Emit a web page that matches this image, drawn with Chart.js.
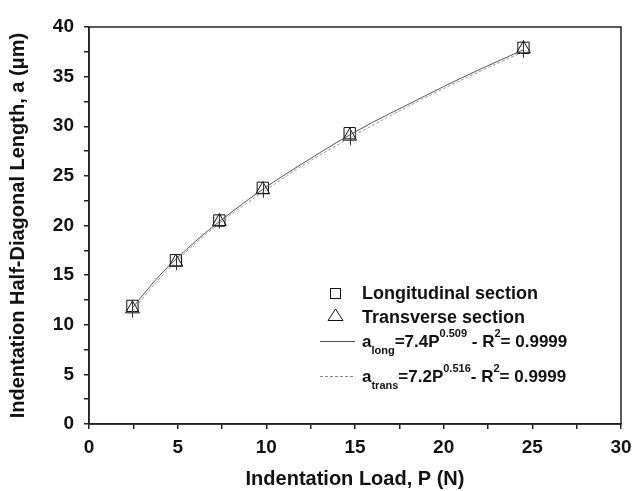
<!DOCTYPE html>
<html>
<head>
<meta charset="utf-8">
<script src="https://cdn.jsdelivr.net/npm/chart.js@4.4.1/dist/chart.umd.min.js"></script>
<style>
  html, body { margin: 0; padding: 0; background: #fff; }
  #wrap { width: 632px; height: 491px; }
</style>
</head>
<body>
<div id="wrap"><canvas id="indent-chart"></canvas></div>
<script>
// Indentation loads, P (N)
const loads = [2.45, 4.9, 7.35, 9.8, 14.7, 24.5];

// Measured half-diagonal length, a (um), with error bars
const longSection = [11.9, 16.5, 20.5, 23.8, 29.3, 37.9];
const transSection = [11.6, 16.3, 20.4, 23.6, 29.0, 37.8];
const longErr = [0.6, 0.5, 0.5, 0.6, 0.6, 0.6];
const transErr = [0.9, 0.8, 0.7, 0.8, 0.9, 0.9];

// Fitted power-law curves
const fitLoads = [2.45, 4, 6, 8, 10, 12, 14, 16, 18, 20, 22, 24.5];
const fitLong = [11.7, 15.0, 18.4, 21.3, 23.9, 26.2, 28.4, 30.4, 32.2, 34.0, 35.7, 37.7];
const fitTrans = [11.4, 14.7, 18.2, 21.1, 23.6, 26.0, 28.1, 30.1, 32.0, 33.8, 35.5, 37.5];

// Legend texts
const legendLabels = ["Longitudinal section", "Transverse section"];
const fitLongLabel = [["a", ""], ["long", "sub"], ["=7.4P", ""], ["0.509", "sup"], [" - R", ""], ["2", "sup"], ["= 0.9999", ""]];
const fitTransLabel = [["a", ""], ["trans", "sub"], ["=7.2P", ""], ["0.516", "sup"], ["- R", ""], ["2", "sup"], ["= 0.9999", ""]];

const FONT = "'Liberation Sans', Arial, sans-serif";

function toPoints(xs, ys) {
  return xs.map((x, i) => ({ x: x, y: ys[i] }));
}

// draws text with sub/superscripts
function drawRich(ctx, parts, x, y) {
  parts.forEach(([t, kind]) => {
    const size = kind ? 11 : 17;
    const dy = kind === "sub" ? 7 : kind === "sup" ? -10 : 0;
    ctx.font = "bold " + size + "px " + FONT;
    ctx.fillText(t, x, y + dy);
    x += ctx.measureText(t).width;
  });
  return x;
}

// thin vertical error bars through the markers
const errorBars = {
  id: "errorBars",
  afterDatasetsDraw(chart) {
    const { ctx, scales: { x, y } } = chart;
    ctx.save();
    ctx.strokeStyle = "#333";
    ctx.lineWidth = 1;
    [[longSection, longErr], [transSection, transErr]].forEach(([vals, errs]) => {
      vals.forEach((v, i) => {
        const px = Math.round(x.getPixelForValue(loads[i])) + 0.5;
        ctx.beginPath();
        ctx.moveTo(px, y.getPixelForValue(v - errs[i]));
        ctx.lineTo(px, y.getPixelForValue(v + errs[i]));
        ctx.stroke();
      });
    });
    ctx.restore();
  }
};

// box around the plot + the hand-made legend
const frameAndLegend = {
  id: "frameAndLegend",
  afterDraw(chart) {
    const { ctx, chartArea: a } = chart;
    ctx.save();
    ctx.strokeStyle = "#222";
    ctx.lineWidth = 1.5;
    ctx.strokeRect(a.left, a.top, a.right - a.left, a.bottom - a.top);

    // legend
    ctx.fillStyle = "#111";
    ctx.strokeStyle = "#111";
    ctx.lineWidth = 1;
    ctx.textBaseline = "alphabetic";
    ctx.strokeRect(330.5, 288.5, 10, 10);
    ctx.beginPath();
    ctx.moveTo(335.5, 309);
    ctx.lineTo(343, 320.5);
    ctx.lineTo(328, 320.5);
    ctx.closePath();
    ctx.stroke();
    ctx.font = "bold 18px " + FONT;
    ctx.fillText(legendLabels[0], 362, 299);
    ctx.fillText(legendLabels[1], 362, 323);

    ctx.strokeStyle = "#555";
    ctx.beginPath();
    ctx.moveTo(320, 341.5);
    ctx.lineTo(355, 341.5);
    ctx.stroke();
    drawRich(ctx, fitLongLabel, 362, 347);

    ctx.strokeStyle = "#888";
    ctx.setLineDash([3, 2]);
    ctx.beginPath();
    ctx.moveTo(320, 376.5);
    ctx.lineTo(355, 376.5);
    ctx.stroke();
    ctx.setLineDash([]);
    drawRich(ctx, fitTransLabel, 362, 382);
    ctx.restore();
  }
};

const tickFont = { family: FONT, size: 19, weight: "bold" };
const titleFont = { family: FONT, size: 20, weight: "bold" };

new Chart("indent-chart", {
  type: "scatter",
  data: {
    datasets: [
      {
        label: "fit long",
        data: toPoints(fitLoads, fitLong),
        showLine: true,
        pointRadius: 0,
        borderColor: "#555",
        borderWidth: 1,
        cubicInterpolationMode: "monotone"
      },
      {
        label: "fit trans",
        data: toPoints(fitLoads, fitTrans),
        showLine: true,
        pointRadius: 0,
        borderColor: "#999",
        borderWidth: 1,
        borderDash: [3, 2],
        cubicInterpolationMode: "monotone"
      },
      {
        label: legendLabels[0],
        data: toPoints(loads, longSection),
        pointStyle: "rect",
        pointRadius: 8,
        borderColor: "#111",
        borderWidth: 1,
        backgroundColor: "rgba(0,0,0,0)"
      },
      {
        label: legendLabels[1],
        data: toPoints(loads, transSection),
        pointStyle: "triangle",
        pointRadius: 8,
        borderColor: "#111",
        borderWidth: 1,
        backgroundColor: "rgba(0,0,0,0)"
      }
    ]
  },
  options: {
    responsive: true,
    maintainAspectRatio: false,
    animation: false,
    layout: { padding: { top: 27, right: 11, left: 0, bottom: 0 } },
    plugins: {
      legend: { display: false },
      tooltip: { enabled: false }
    },
    scales: {
      x: {
        type: "linear",
        min: 0,
        max: 30,
        afterFit: (s) => {
          s.height = 67;
          s.paddingLeft = 0;
          s.paddingRight = 0;
        },
        ticks: {
          stepSize: 2.5,
          autoSkip: false,
          maxRotation: 0,
          callback: (v) => (v % 5 === 0 ? v : ""),
          font: tickFont,
          color: "#111",
          padding: 7
        },
        grid: { drawOnChartArea: false, tickLength: 5, color: "#222", lineWidth: 1.5 },
        border: { color: "#222", width: 1.5 },
        title: { display: true, text: "Indentation Load, P (N)", font: titleFont, color: "#111", padding: { top: 0, bottom: 0 } }
      },
      y: {
        min: 0,
        max: 40,
        afterFit: (s) => {
          s.width = 89;
          s.paddingTop = 0;
          s.paddingBottom = 0;
        },
        ticks: {
          stepSize: 2.5,
          autoSkip: false,
          callback: (v) => (v % 5 === 0 ? v : ""),
          font: tickFont,
          color: "#111",
          padding: 10
        },
        grid: { drawOnChartArea: false, tickLength: 5, color: "#222", lineWidth: 1.5 },
        border: { color: "#222", width: 1.5 },
        title: { display: true, text: "Indentation Half-Diagonal Length, a (\u03bcm)", font: titleFont, color: "#111", padding: { top: 6, bottom: 0 } }
      }
    }
  },
  plugins: [errorBars, frameAndLegend]
});
</script>
</body>
</html>
